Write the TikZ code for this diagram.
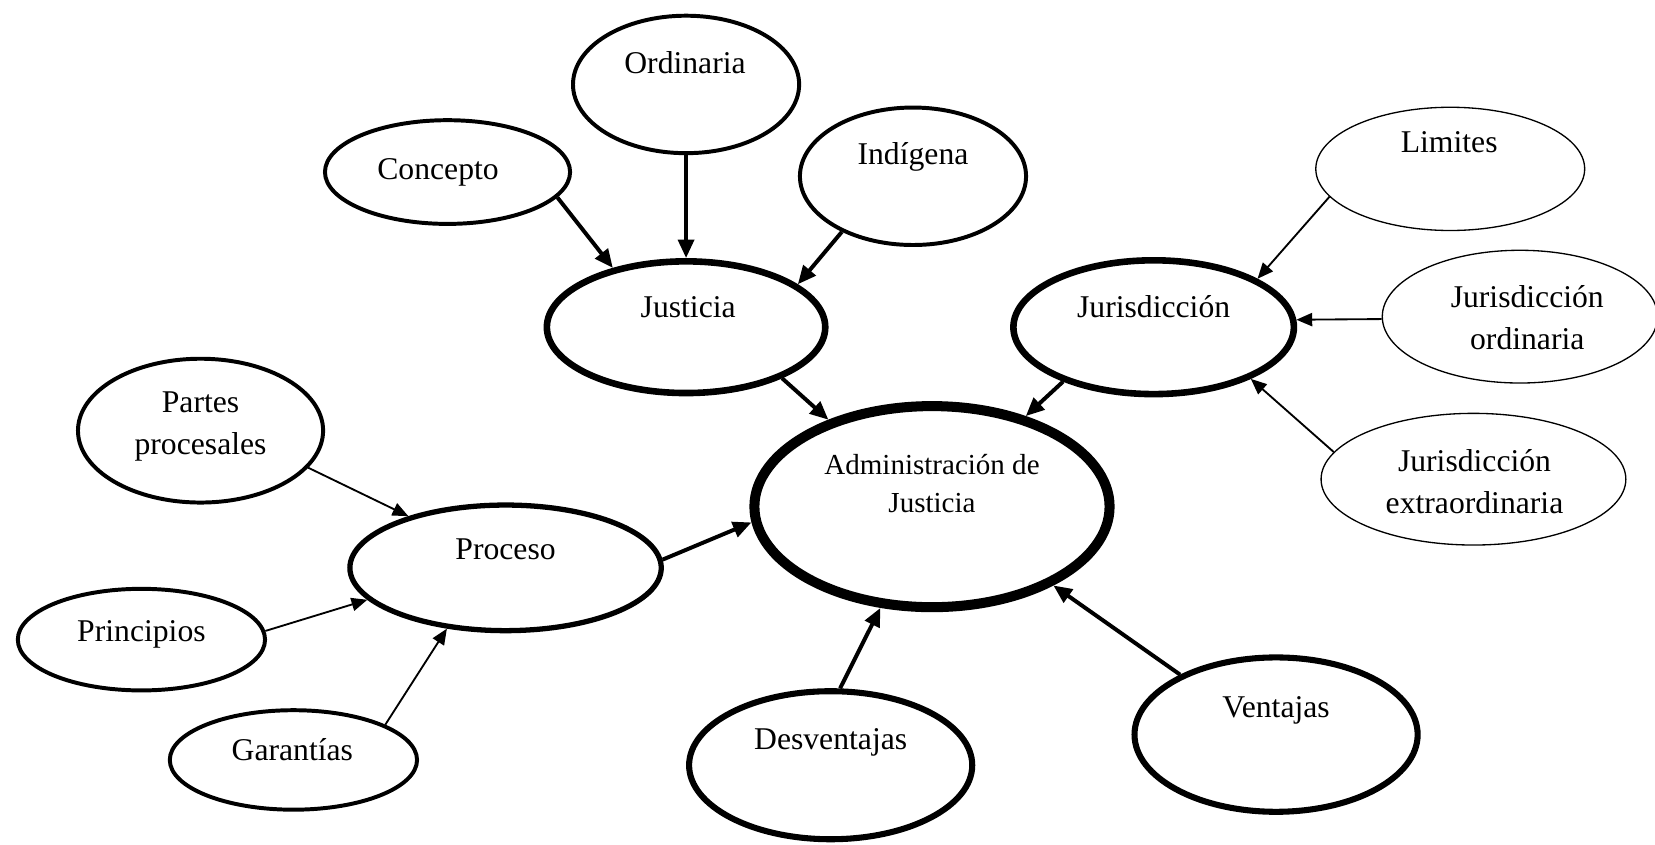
\documentclass[tikz,border=0pt]{standalone}
\usepackage{fontspec}
\setmainfont{Liberation Serif}
\usetikzlibrary{shapes.geometric,arrows.meta}

\tikzset{
  bub/.style={draw, ellipse, line width=#1, inner sep=0pt},
  txt/.style={font=\fontsize{12}{16}\selectfont, align=center, inner sep=0pt},
  one/.style={text height=8pt, text depth=2pt},
  arr/.style={-{Triangle[length=7pt,width=6pt]}, line width=1.5pt},
  tarr/.style={-{Triangle[length=6pt,width=5pt]}, line width=0.7pt}
}

\begin{document}
\begin{tikzpicture}[x=0.4pt, y=-0.4pt]
    \useasboundingbox (0,0) rectangle (1568,800);
    % bubbles
    \node[bub=1.5pt, minimum width=85.7pt, minimum height=52.1pt] (ord) at (650,80) {};
    \node[bub=1.5pt, minimum width=92.9pt, minimum height=39.3pt] (conc) at (424,163) {};
    \node[bub=1.5pt, minimum width=85.7pt, minimum height=52.1pt] (ind) at (865,167) {};
    \node[bub=2.5pt, minimum width=105.5pt, minimum height=49.9pt] (just) at (650,310) {};
    \node[bub=0.5pt, minimum width=101.9pt, minimum height=46.7pt] (lim) at (1374,160) {};
    \node[bub=2.5pt, minimum width=106.3pt, minimum height=50.7pt] (juris) at (1093,310) {};
    \node[bub=0.5pt, minimum width=104.3pt, minimum height=50.3pt] (jord) at (1440,300) {};
    \node[bub=0.5pt, minimum width=115.5pt, minimum height=49.9pt] (jext) at (1396,454) {};
    \node[bub=3.8pt, minimum width=134.6pt, minimum height=76.2pt] (adm) at (883,480) {};
    \node[bub=1.5pt, minimum width=92.9pt, minimum height=54.5pt] (part) at (190,408) {};
    \node[bub=2pt, minimum width=118pt, minimum height=47.6pt] (proc) at (479,538) {};
    \node[bub=1.5pt, minimum width=93.7pt, minimum height=38.5pt] (prin) at (134,606) {};
    \node[bub=1.5pt, minimum width=93.7pt, minimum height=37.7pt] (gar) at (278,720) {};
    \node[bub=2.3pt, minimum width=107.3pt, minimum height=56.1pt] (desv) at (787,725) {};
    \node[bub=2.3pt, minimum width=107.3pt, minimum height=58.5pt] (vent) at (1209,696) {};
    % texts
    \node[txt, one] (ordt) at (649,62) {Ordinaria};
    \node[txt, one] (conct) at (415,163) {Concepto};
    \node[txt, one] (indt) at (865,148) {Indígena};
    \node[txt, one] (justt) at (652,293) {Justicia};
    \node[txt, one] (limt) at (1373,137) {Limites};
    \node[txt, one] (jurist) at (1093,293) {Jurisdicción};
    \node[txt] (jordt) at (1447,301) {Jurisdicción\\ordinaria};
    \node[txt] (jextt) at (1397,456) {Jurisdicción\\extraordinaria};
    \node[txt, font=\fontsize{11}{14.4}\selectfont] (admt) at (883,458) {Administración de\\Justicia};
    \node[txt] (partt) at (190,404) {Partes\\procesales};
    \node[txt, one] (proct) at (479,523) {Proceso};
    \node[txt, one] (print) at (134,600) {Principios};
    \node[txt, one] (gart) at (277,713) {Garantías};
    \node[txt, one] (desvt) at (787,703) {Desventajas};
    \node[txt, one] (ventt) at (1209,672) {Ventajas};
    % arrows
    \draw[arr] (conc.-13.5) -- (just.141.6);
    \draw[arr] (ord.-90) -- (just.90);
    \draw[arr] (ind.218.8) -- (just.21.5);
    \draw[arr] (just.-28.3) -- (adm.140.5);
    \draw[arr] (juris.211.6) -- (adm.44.7);
    \draw[tarr] (lim.193.5) -- (juris.25.2);
    \draw[tarr] (jord.181.5) -- (juris.3);
    \draw[tarr] (jext.169.4) -- (juris.-28);
    \draw[tarr] (part.-19.9) -- (proc.152.5);
    \draw[tarr] (prin.4.8) -- (proc.193.6);
    \draw[tarr] (gar.21.9) -- (proc.226.4);
    \draw[arr] (proc.3.8) -- (adm.185.3);
    \draw[arr] (desv.83) -- (adm.243.9);
    \draw[arr] (vent.148.8) -- (adm.-33.9);
\end{tikzpicture}
\end{document}
